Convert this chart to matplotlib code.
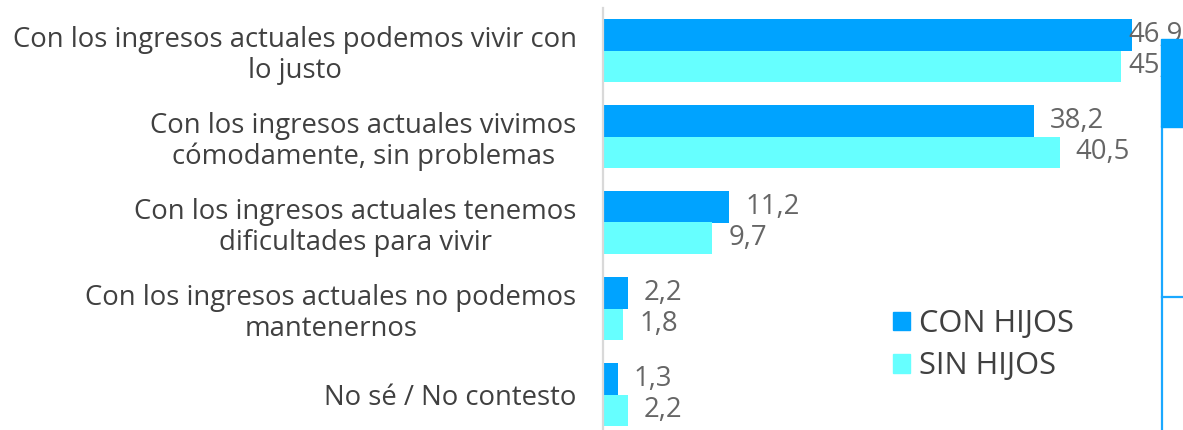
import matplotlib.pyplot as plt
from matplotlib.patches import Rectangle
from matplotlib.lines import Line2D

plt.rcParams['font.family'] = ['Open Sans', 'DejaVu Sans']

# datos
categorias = [
    "Con los ingresos actuales podemos vivir con\nlo justo",
    "Con los ingresos actuales vivimos\ncómodamente, sin problemas",
    "Con los ingresos actuales tenemos\ndificultades para vivir",
    "Con los ingresos actuales no podemos\nmantenernos",
    "No sé / No contesto",
]
con_hijos = [46.9, 38.2, 11.2, 2.2, 1.3]
sin_hijos = [45.9, 40.5, 9.7, 1.8, 2.2]
etiquetas_con = ["46,9", "38,2", "11,2", "2,2", "1,3"]
etiquetas_sin = ["45,9", "40,5", "9,7", "1,8", "2,2"]
series = ["CON HIJOS", "SIN HIJOS"]
colores = ["#00A3FF", "#66FFFF"]

W, H = 1183, 430
fig = plt.figure(figsize=(W / 100, H / 100), dpi=100)
ax = fig.add_axes([603 / W, 0, 1 - 603 / W, 1 - 8 / H])

# tamaño de letra: que la primera línea mida ~565 px como en el original
r = fig.canvas.get_renderer()
t = fig.text(0, 0, categorias[0].split("\n")[0], fontsize=17)
fs = 17 * 565 / t.get_window_extent(r).width
t.remove()
t = fig.text(0, 0, series[0], fontsize=17)
fs_leg = 17 * 155 / t.get_window_extent(r).width
t.remove()

h = 0.366
y = list(range(len(categorias)))
xmax = (W - 603) / 11.28
ax.barh([v - h / 2 for v in y], con_hijos, height=h, color=colores[0])
ax.barh([v + h / 2 for v in y], sin_hijos, height=h, color=colores[1])

# etiquetas de valor (se ajustan al borde derecho)
for vals, labs, off in [(con_hijos, etiquetas_con, -h / 2), (sin_hijos, etiquetas_sin, h / 2)]:
    for i, (v, t) in enumerate(zip(vals, labs)):
        if v + 1.4 + 4.6 > xmax:
            ax.text(xmax, i + off, t, ha='right', va='center', fontsize=fs, color='#666666')
        else:
            ax.text(v + 1.4, i + off, t, ha='left', va='center', fontsize=fs, color='#666666')

ax.set_xlim(0, xmax)
ax.set_ylim((430 - 50.5) / 86, (8 - 50.5) / 86)
ax.set_yticks(y)
ax.set_yticklabels(categorias, fontsize=fs, color='#404040', multialignment='center', linespacing=1.15)
ax.tick_params(axis='y', length=0, pad=19)
ax.set_xticks([])
for s in ['top', 'right', 'bottom']:
    ax.spines[s].set_visible(False)
ax.spines['left'].set_color('#d9d9d9')
ax.spines['left'].set_linewidth(1.6)

# leyenda
handles = [Rectangle((0, 0), 1, 1, color=c) for c in colores]
leg = fig.legend(handles, series, loc='upper left', bbox_to_anchor=(893 / W, 1 - 309 / H),
                 frameon=False, fontsize=fs_leg, borderpad=0, borderaxespad=0,
                 handlelength=0.55, handleheight=0.55,
                 handletextpad=0.3, labelspacing=0.4, labelcolor='#404040')

# recuadro lateral recortado
fig.patches.append(Rectangle((1161 / W, 1 - 127 / H), 22 / W, 88 / H,
                             transform=fig.transFigure, color='#00A3FF', zorder=10))
fig.lines.append(Line2D([1162 / W, 1162 / W], [0, 1 - 127 / H], transform=fig.transFigure,
                        color='#1AA8FF', lw=1.6, zorder=10))
fig.lines.append(Line2D([1162 / W, 1], [1 - 297 / H, 1 - 297 / H], transform=fig.transFigure,
                        color='#1AA8FF', lw=1.6, zorder=10))
fig.patches.append(Rectangle((1163 / W, 0), 20 / W, 1 - 127 / H, transform=fig.transFigure,
                             color='white', zorder=9))

fig.savefig('out.png', dpi=100)
